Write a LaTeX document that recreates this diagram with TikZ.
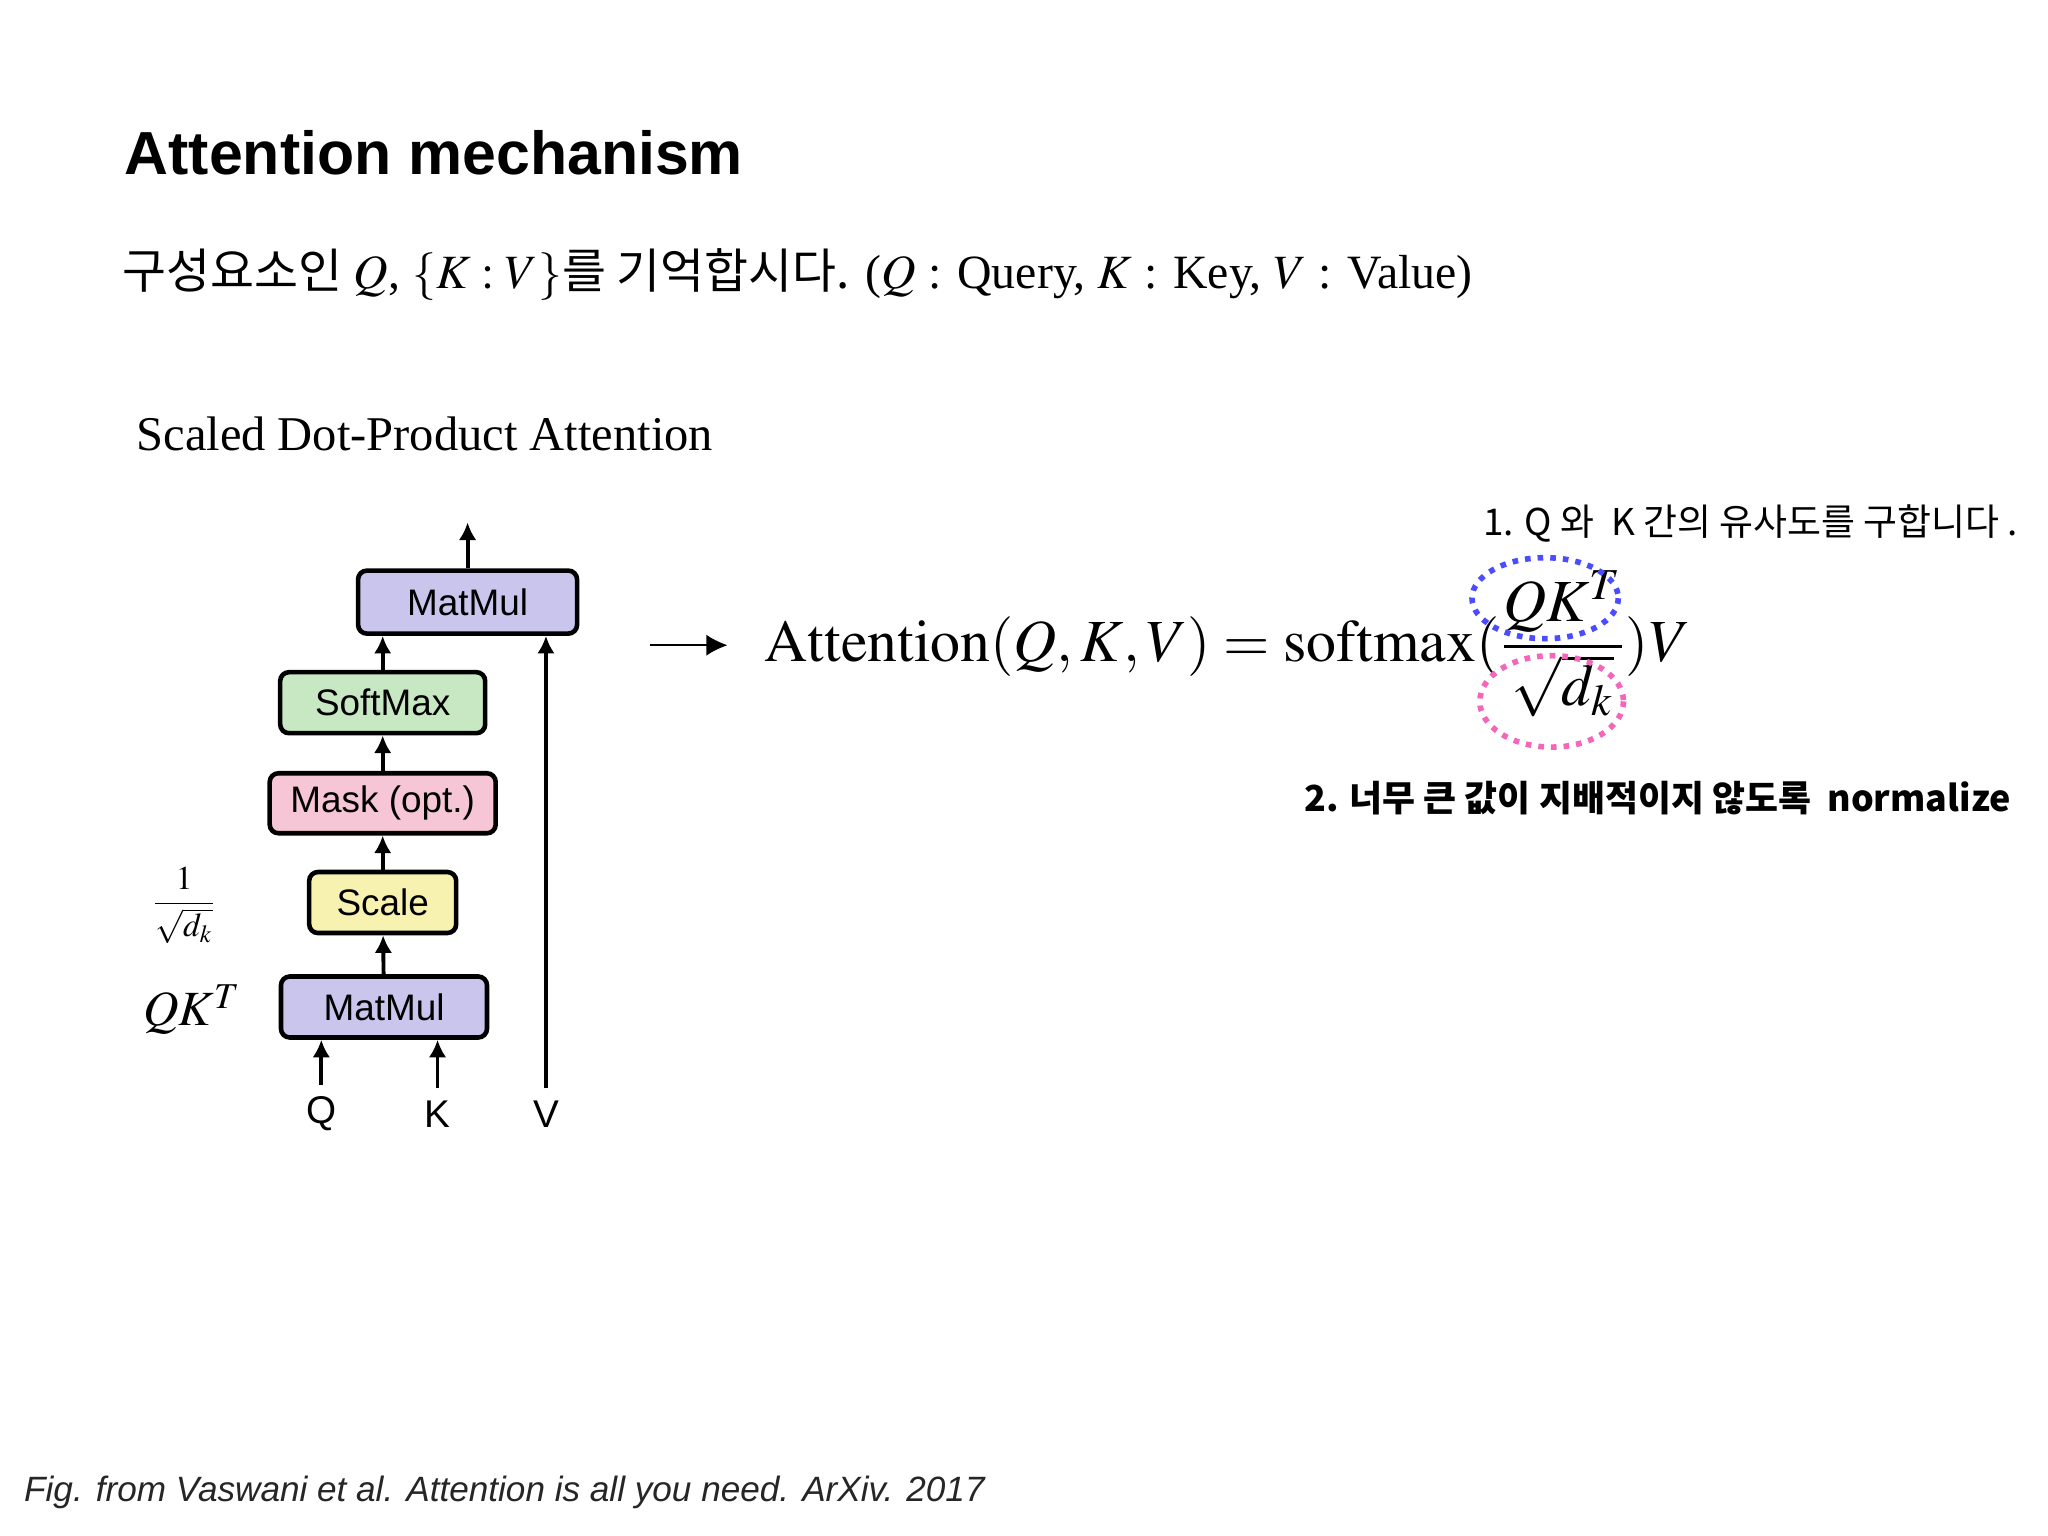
\documentclass[tikz,border=0pt]{standalone}
\usepackage{amsmath}
\usepackage{mathptmx}
\usepackage{fontspec}
\setmainfont{Liberation Serif}
\setsansfont{Liberation Sans}
\newfontfamily\kr{Noto Sans CJK KR}
\usetikzlibrary{arrows.meta}
\definecolor{cmat}{HTML}{C9C5EC}
\definecolor{csoft}{HTML}{C8E8C4}
\definecolor{cmask}{HTML}{F6C6D6}
\definecolor{cscale}{HTML}{F8F2B0}
\tikzset{
 blk/.style={draw=black,line width=1.3pt,rounded corners=2.5pt,inner sep=0pt,
   font=\sffamily\fontsize{10.5}{12}\selectfont},
 arr/.style={-{Latex[length=5pt,width=5pt]},line width=1.1pt},
}
\begin{document}
\begin{tikzpicture}[x=0.013061cm,y=-0.013061cm]
\useasboundingbox (0,0) rectangle (1568,1175.3);
\fill[white] (0,0) rectangle (1568,1175.3);
\node[anchor=west,font=\sffamily\bfseries\fontsize{17.3}{20}\selectfont] (title) at (86,117) {Attention mechanism};
\node[anchor=west,inner sep=0pt] (intro) at (93,210) {\fontsize{13.6}{16}\selectfont{\kr 구성요소인} $Q$, $\{K : V\}${\kr 를 기억합시다.} ($Q$ : Query, $K$ : Key, $V$ : Value)};
\node[anchor=west,inner sep=0pt,font=\fontsize{13.8}{16}\selectfont] (sdpa) at (104,332) {Scaled Dot-Product Attention};
% blocks
\node[blk,fill=cmat,minimum width=2.19cm,minimum height=0.63cm] (mm2) at (358,461) {MatMul};
\node[blk,fill=csoft,minimum width=2.05cm,minimum height=0.61cm] (soft) at (293,538) {SoftMax};
\node[blk,fill=cmask,minimum width=2.26cm,minimum height=0.60cm] (mask) at (293,615) {Mask (opt.)};
\node[blk,fill=cscale,minimum width=1.47cm,minimum height=0.61cm] (scale) at (293,691) {Scale};
\node[blk,fill=cmat,minimum width=2.06cm,minimum height=0.61cm] (mm1) at (294,771) {MatMul};
\node[font=\sffamily\fontsize{11}{12}\selectfont] (q) at (246,853) {Q};
\node[font=\sffamily\fontsize{11}{12}\selectfont] (k) at (335,853) {K};
\node[font=\sffamily\fontsize{11}{12}\selectfont] (v) at (418,853) {V};
\coordinate (top) at (358,400);
\draw[arr] (q.north) -- (q.north|-mm1.south);
\draw[arr] (k.north) -- (k.north|-mm1.south);
\draw[arr] (v.north) -- (v.north|-mm2.south);
\draw[arr] (mm1) -- (scale);
\draw[arr] (scale) -- (mask);
\draw[arr] (mask) -- (soft);
\draw[arr] (soft.north-|293,0) -- (293,0|-mm2.south);
\draw[arr] (mm2) -- (top);
\node (lsc) at (141,693) {\fontsize{9.5}{11}\selectfont$\dfrac{1}{\sqrt{d_k}}$};
\node (lqk) at (147,773) {\fontsize{14}{16}\selectfont$QK^T$};
% arrow to formula
\coordinate (a0) at (498,494);
\coordinate (a1) at (557,494);
\draw[-{Latex[length=6pt,width=6pt]},line width=0.5pt] (a0) -- (a1);
\node[anchor=west,inner sep=0pt] (eq) at (585,493) {\fontsize{17}{20}\selectfont$\mathrm{Attention}(Q,K,V)=\mathrm{softmax}(\dfrac{QK^T}{\sqrt{d_k}})V$};
\draw[blue!70!white,dotted,line width=1.6pt] (1183,458) ellipse [x radius=56,y radius=31];
\draw[magenta!60!white,dotted,line width=1.6pt] (1188,537) ellipse [x radius=55,y radius=35];
\node[anchor=west,inner sep=0pt,font=\kr\fontsize{10.5}{12}\selectfont] (n1) at (1135,401) {1. Q 와 \ K 간의 유사도를 구합니다 .};
\node[anchor=west,inner sep=0pt,font=\kr\bfseries\fontsize{10.2}{12}\selectfont] (n2) at (998,611) {2. 너무 큰 값이 지배적이지 않도록 \ normalize};
\node[anchor=west,inner sep=0pt,font=\sffamily\itshape\fontsize{10}{12}\selectfont,text=black!85] (foot) at (18,1143) {Fig. from Vaswani et al. Attention is all you need. ArXiv. 2017};
\end{tikzpicture}
\end{document}
